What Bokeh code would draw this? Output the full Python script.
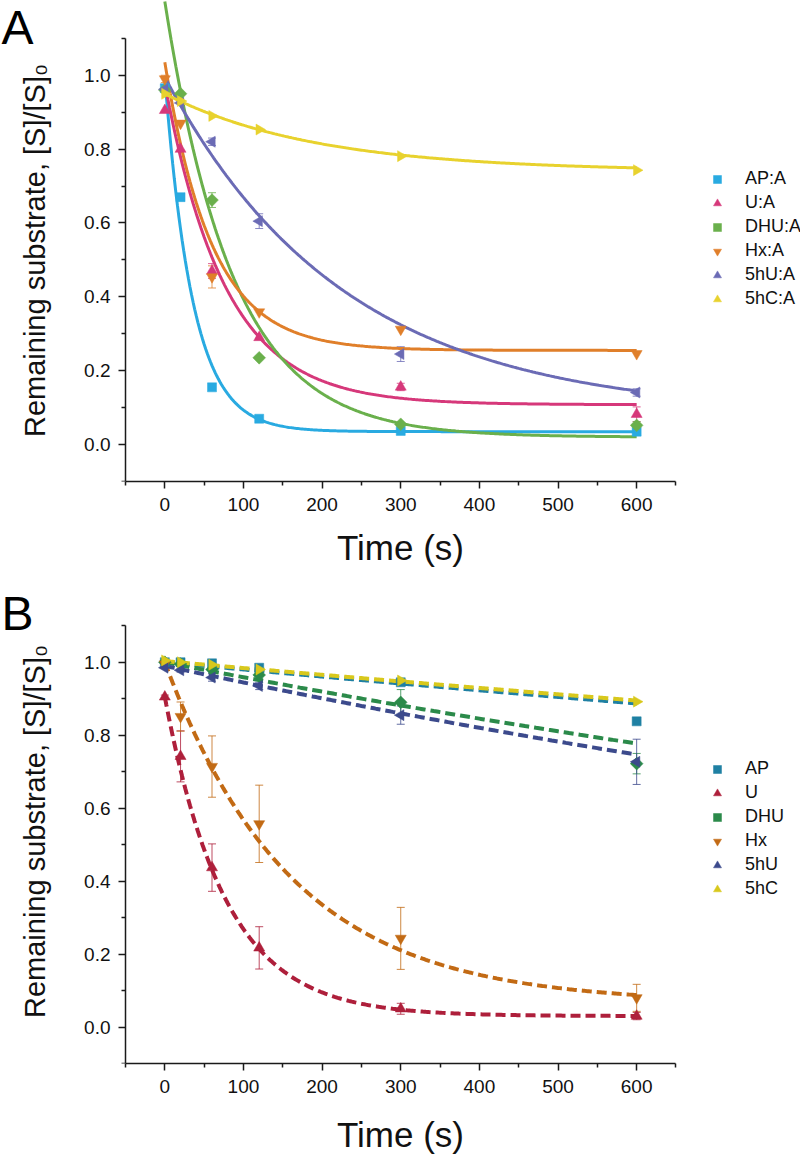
import numpy as np
from bokeh.plotting import figure
from bokeh.models import (ColumnDataSource, Whisker, TeeHead, Legend, LegendItem,
                          FixedTicker, PrintfTickFormatter, Label)
from bokeh.layouts import column
from bokeh.embed import file_html
from bokeh.resources import INLINE

# ---------------- data ----------------
times = [0, 20, 60, 120, 300, 600]

# Panel A (substrate paired with A)
a_names = ["AP:A", "U:A", "DHU:A", "Hx:A", "5hU:A", "5hC:A"]
a_ap = [0.965, 0.67, 0.155, 0.07, 0.037, 0.035]
a_u = [0.905, 0.80, 0.47, 0.29, 0.156, 0.082]
a_dhu = [0.96, 0.95, 0.662, 0.235, 0.055, 0.052]
a_hx = [0.99, 0.87, 0.454, 0.359, 0.312, 0.246]
a_5hu = [0.962, 0.925, 0.82, 0.605, 0.245, 0.141]
a_5hc = [0.95, 0.93, 0.89, 0.853, 0.781, 0.743]
a_err_ap = [0.01, 0.0, 0.0, 0.0, 0.0, 0.0]
a_err_u = [0.0, 0.0, 0.02, 0.0, 0.01, 0.02]
a_err_dhu = [0.0, 0.0, 0.02, 0.0, 0.0, 0.01]
a_err_hx = [0.01, 0.0, 0.03, 0.0, 0.0, 0.0]
a_err_5hu = [0.0, 0.0, 0.01, 0.02, 0.02, 0.01]
a_err_5hc = [0.0, 0.0, 0.0, 0.0, 0.0, 0.0]
# exponential fit parameters: plateau, amplitude, rate (1/s)
a_fit_plateau = [0.035, 0.108, 0.02, 0.255, 0.08, 0.74]
a_fit_amp = [0.96, 0.87, 1.18, 0.78, 0.915, 0.21]
a_fit_rate = [0.028, 0.013, 0.0115, 0.0167, 0.0044, 0.0052]

# Panel B (single-stranded substrates)
b_names = ["AP", "U", "DHU", "Hx", "5hU", "5hC"]
b_ap = [1.0, 1.0, 0.997, 0.985, 0.945, 0.838]
b_u = [0.905, 0.742, 0.437, 0.217, 0.05, 0.03]
b_dhu = [1.0, 0.995, 0.98, 0.965, 0.89, 0.722]
b_hx = [0.995, 0.851, 0.714, 0.557, 0.243, 0.08]
b_5hu = [0.985, 0.978, 0.958, 0.935, 0.855, 0.727]
b_5hc = [1.005, 1.0, 0.993, 0.98, 0.95, 0.892]
b_err_ap = [0.0, 0.0, 0.0, 0.0, 0.0, 0.0]
b_err_u = [0.005, 0.07, 0.065, 0.058, 0.015, 0.01]
b_err_dhu = [0.0, 0.0, 0.01, 0.01, 0.035, 0.028]
b_err_hx = [0.0, 0.04, 0.084, 0.106, 0.085, 0.037]
b_err_5hu = [0.0, 0.005, 0.01, 0.01, 0.025, 0.062]
b_err_5hc = [0.0, 0.0, 0.0, 0.0, 0.0, 0.0]
b_fit_plateau = [0.0, 0.03, 0.0, 0.065, 0.0, 0.0]
b_fit_amp = [1.0, 0.875, 1.0, 0.935, 0.99, 1.003]
b_fit_rate = [0.0002, 0.013, 0.00042, 0.0062, 0.00047, 0.00019]

x_major = [0, 100, 200, 300, 400, 500, 600]
x_minor = [-50, 50, 150, 250, 350, 450, 550, 650]
y_major = [0.0, 0.2, 0.4, 0.6, 0.8, 1.0]
y_minor = [-0.1, 0.1, 0.3, 0.5, 0.7, 0.9, 1.1]
y_title = "Remaining substrate, [S]/[S]\u2080"
x_title = "Time (s)"

# ---------------- style ----------------
FONT = "Liberation Sans"
a_colors = ["#29aae1", "#d6387a", "#6ab04c", "#e07f2a", "#6b6bb5", "#e8d22e"]
b_colors = ["#1f80a3", "#ae1f3b", "#2b8a4a", "#c26a14", "#3c4a8c", "#d8c81c"]
markers = ["square", "triangle", "square", "inverted_triangle", "triangle", "triangle"]
angles = [0, 0, np.pi / 4, 0, np.pi / 2, -np.pi / 2]
sizes = [9, 11, 9, 11, 11, 11]

SX = 0.7864   # px per second
SY = 369.3    # px per unit
W = 800
AXIS_X = 125  # pixel column of the y axis


def make_panel(letter, names, series, errs, plat, amp, rate, colors, height,
               bottom, dashed, xlabel_standoff, letter_y, ylab_y, legend_y):
    frame_h = height - bottom
    x0 = -50 - AXIS_X / SX
    p = figure(width=W, height=height, output_backend="svg", toolbar_location=None,
               x_range=(x0, x0 + W / SX), y_range=(-0.1, -0.1 + frame_h / SY),
               min_border_left=0, min_border_right=0, min_border_top=0,
               min_border_bottom=bottom)
    p.outline_line_color = None
    p.xgrid.visible = False
    p.ygrid.visible = False
    p.background_fill_color = "white"

    tgrid = np.linspace(0, 600, 301)
    items = []
    for i, name in enumerate(names):
        fit = plat[i] + amp[i] * np.exp(-rate[i] * tgrid)
        if dashed:
            p.line(tgrid, fit, line_color=colors[i], line_width=4, line_dash="10 5")
        else:
            p.line(tgrid, fit, line_color=colors[i], line_width=3)
    for i, name in enumerate(names):
        y = series[i]
        e = errs[i]
        idx = [j for j in range(len(times)) if e[j] > 0]
        if idx:
            src = ColumnDataSource(dict(t=[times[j] for j in idx],
                                        lo=[y[j] - e[j] for j in idx],
                                        hi=[y[j] + e[j] for j in idx]))
            w = Whisker(base="t", lower="lo", upper="hi", source=src,
                        line_color=colors[i], line_width=1, line_alpha=0.8,
                        upper_head=TeeHead(size=8, line_color=colors[i], line_width=1, line_alpha=0.8),
                        lower_head=TeeHead(size=8, line_color=colors[i], line_width=1, line_alpha=0.8))
            p.add_layout(w)
        r = p.scatter(times, y, marker=markers[i], angle=angles[i], size=sizes[i],
                      fill_color=colors[i], line_color=colors[i], line_width=0.5)
        items.append(LegendItem(label=name, renderers=[r]))

    legend = Legend(items=items, location=(707, legend_y), padding=0, margin=0,
                    spacing=3, glyph_width=20, glyph_height=20, label_height=20,
                    label_standoff=18, border_line_color=None, background_fill_alpha=0,
                    label_text_font=FONT, label_text_font_size="18px",
                    label_text_color="#111111")
    p.add_layout(legend)

    for ax in (p.xaxis[0], p.yaxis[0]):
        ax.axis_line_width = 1.5
        ax.axis_line_color = "#1a1a1a"
        ax.major_tick_line_width = 1.5
        ax.minor_tick_line_width = 1.5
        ax.major_tick_line_color = "#1a1a1a"
        ax.minor_tick_line_color = "#1a1a1a"
        ax.major_tick_in = 0
        ax.major_tick_out = 7
        ax.minor_tick_in = 0
        ax.minor_tick_out = 4
        ax.major_label_text_font = FONT
        ax.major_label_text_font_size = "19px"
        ax.major_label_text_color = "#111111"
        ax.axis_label_text_font = FONT
        ax.axis_label_text_font_style = "normal"
        ax.axis_label_text_color = "#111111"

    p.xaxis.bounds = (-50, 650)
    p.yaxis.bounds = (-0.1, 1.1)
    p.yaxis.fixed_location = -50
    p.xaxis.ticker = FixedTicker(ticks=x_major, minor_ticks=x_minor)
    p.yaxis.ticker = FixedTicker(ticks=y_major, minor_ticks=y_minor)
    p.xaxis.formatter = PrintfTickFormatter(format="%d")
    p.yaxis.formatter = PrintfTickFormatter(format="%.1f")
    p.xaxis.major_label_standoff = 9
    p.yaxis.major_label_standoff = 8
    p.xaxis.axis_label = x_title
    p.xaxis.axis_label_text_font_size = "35px"
    p.xaxis.axis_label_standoff = xlabel_standoff

    # y-axis title (rotated text beside the axis)
    p.add_layout(Label(x=34, y=ylab_y, x_units="screen", y_units="screen",
                       text=y_title, angle=np.pi / 2, text_align="center",
                       text_baseline="alphabetic", text_font=FONT,
                       text_font_size="29px", text_color="#111111"))
    # panel letter
    p.add_layout(Label(x=1, y=letter_y, x_units="screen", y_units="screen",
                       text=letter, text_font=FONT, text_font_size="48px",
                       text_color="#000000", text_baseline="alphabetic"))
    return p


pa = make_panel("A", a_names, [a_ap, a_u, a_dhu, a_hx, a_5hu, a_5hc],
                [a_err_ap, a_err_u, a_err_dhu, a_err_hx, a_err_5hu, a_err_5hc],
                a_fit_plateau, a_fit_amp, a_fit_rate, a_colors,
                height=578, bottom=97, dashed=False, xlabel_standoff=14,
                letter_y=454, ylab_y=231, legend_y=172)
pb = make_panel("B", b_names, [b_ap, b_u, b_dhu, b_hx, b_5hu, b_5hc],
                [b_err_ap, b_err_u, b_err_dhu, b_err_hx, b_err_5hu, b_err_5hc],
                b_fit_plateau, b_fit_amp, b_fit_rate, b_colors,
                height=578, bottom=87, dashed=True, xlabel_standoff=19,
                letter_y=450, ylab_y=232, legend_y=164)

layout = column(pa, pb, spacing=0)
open("out.html", "w").write(file_html(layout, INLINE))
